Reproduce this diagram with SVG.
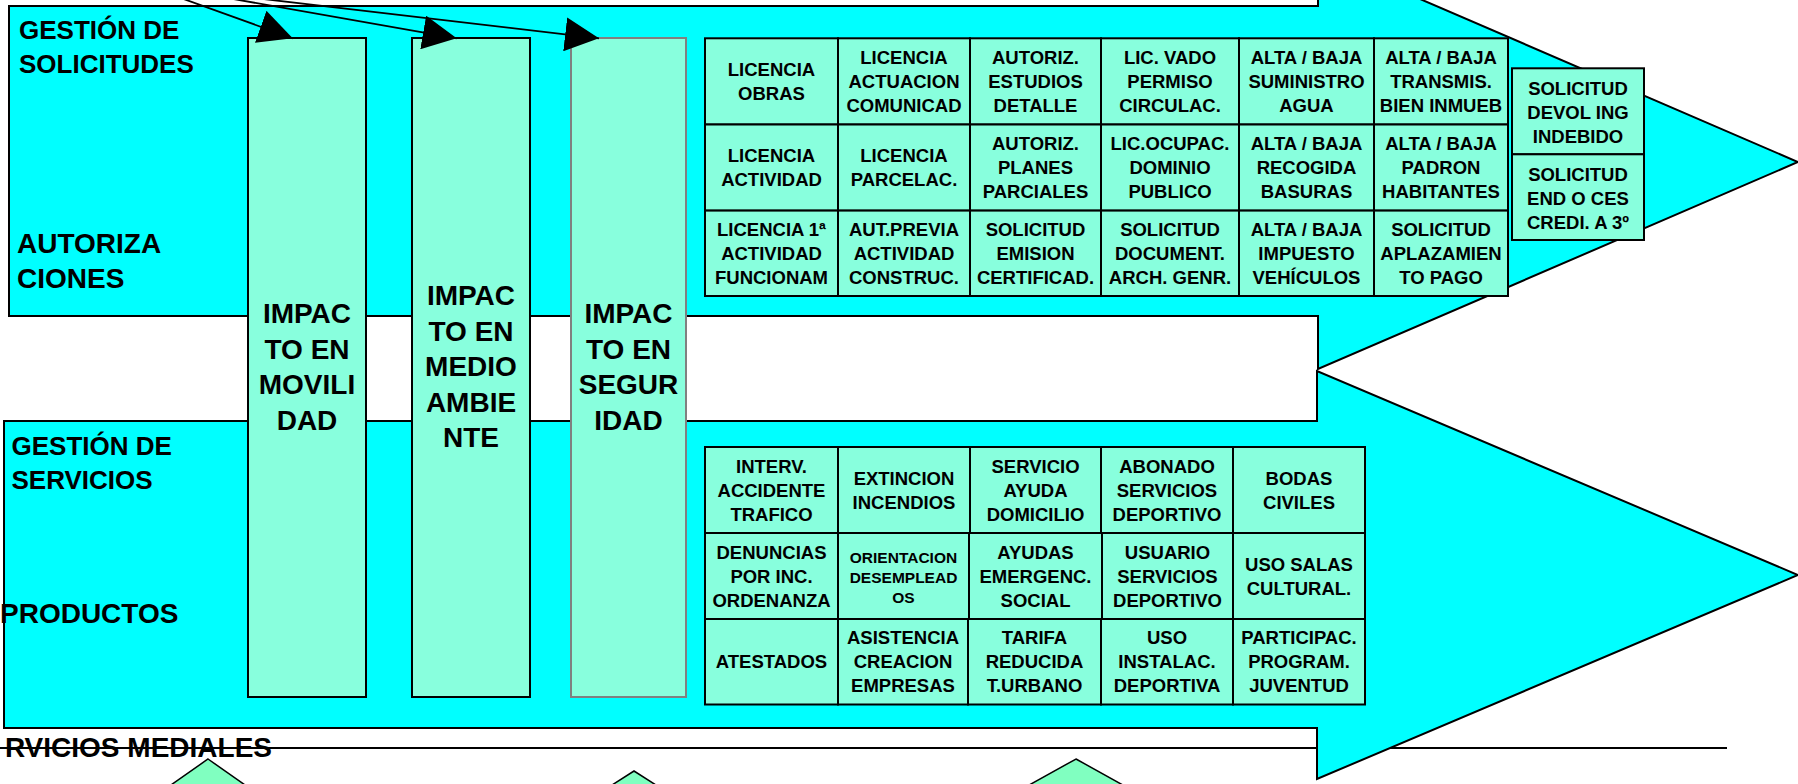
<svg xmlns="http://www.w3.org/2000/svg" width="1798" height="784" viewBox="0 0 1798 784">
<style>
text{font-family:"Liberation Sans",Arial,sans-serif;font-weight:bold;fill:#000}
.big{font-size:28px}
.lab{font-size:26px}
.col{font-size:28px;text-anchor:middle}
.cell{font-size:18.5px;text-anchor:middle}
.small{font-size:15.5px;text-anchor:middle}
.arrow{fill:#00FFFF;stroke:#000;stroke-width:2}
.box{fill:#88FFDD;stroke:#000;stroke-width:2}
.boxg{fill:#88FFDD;stroke:#808080;stroke-width:2}
.tri{fill:#80FFC0;stroke:#000;stroke-width:1.5}
.conn{fill:none;stroke:#000;stroke-width:1.8}
</style>
<defs>
<marker id="ah" viewBox="0 0 34 34" markerUnits="userSpaceOnUse" markerWidth="34" markerHeight="34" refX="34" refY="17" orient="auto">
<path d="M0,0 L34,17 L0,34 Z" fill="#000"/>
</marker>
</defs>
<rect width="1798" height="784" fill="#fff"/>

<g id="medial-line">
<line x1="0" y1="748" x2="1727" y2="748" stroke="#000" stroke-width="2.2"/>
</g>

<g id="arrow-solicitudes">
<path class="arrow" d="M9,6 H1318 V-45 L1798,162 L1318,369 V316 H9 Z"/>
<text class="lab" x="19" y="39">GESTIÓN DE</text>
<text class="lab" x="19" y="73">SOLICITUDES</text>
<text class="big" x="17" y="253">AUTORIZA</text>
<text class="big" x="17" y="288">CIONES</text>
</g>

<g id="arrow-servicios">
<path class="arrow" d="M4,421 H1317 V371 L1798,575 L1317,779 V728 H4 Z"/>
<text class="lab" x="11.5" y="455">GESTIÓN DE</text>
<text class="lab" x="11.5" y="489">SERVICIOS</text>
<text class="big" x="0" y="623">PRODUCTOS</text>
</g>

<g id="medial-label">
<text class="big" x="272" y="757" text-anchor="end">RVICIOS MEDIALES</text>
</g>

<g id="triangles">
<polygon class="tri" points="208,759 265,799 151,799"/>
<polygon class="tri" points="634,771 681,801 587,801"/>
<polygon class="tri" points="1076,759 1148,799 1004,799"/>
</g>

<g id="impacto-movilidad">
<rect class="box" x="248" y="38" width="118" height="659"/>
<text class="col" x="307" y="323">IMPAC<tspan x="307" dy="35.6">TO EN</tspan><tspan x="307" dy="35.6">MOVILI</tspan><tspan x="307" dy="35.6">DAD</tspan></text>
</g>
<g id="impacto-medio-ambiente">
<rect class="box" x="412" y="38" width="118" height="659"/>
<text class="col" x="471" y="305">IMPAC<tspan x="471" dy="35.6">TO EN</tspan><tspan x="471" dy="35.6">MEDIO</tspan><tspan x="471" dy="35.6">AMBIE</tspan><tspan x="471" dy="35.6">NTE</tspan></text>
</g>
<g id="impacto-seguridad">
<rect class="boxg" x="571" y="38" width="115" height="659"/>
<text class="col" x="628.5" y="323">IMPAC<tspan x="628.5" dy="35.6">TO EN</tspan><tspan x="628.5" dy="35.6">SEGUR</tspan><tspan x="628.5" dy="35.6">IDAD</tspan></text>
</g>

<g id="grid-solicitudes">
<g id="c-lic-obras"><rect class="box" x="705" y="38.3" width="133" height="86.2"/><text class="cell" x="771.5" y="76">LICENCIA<tspan x="771.5" dy="24">OBRAS</tspan></text></g>
<g id="c-lic-actuacion"><rect class="box" x="838" y="38.3" width="132" height="86.2"/><text class="cell" x="904" y="64">LICENCIA<tspan x="904" dy="24">ACTUACION</tspan><tspan x="904" dy="24">COMUNICAD</tspan></text></g>
<g id="c-aut-estudios"><rect class="box" x="970" y="38.3" width="131" height="86.2"/><text class="cell" x="1035.5" y="64">AUTORIZ.<tspan x="1035.5" dy="24">ESTUDIOS</tspan><tspan x="1035.5" dy="24">DETALLE</tspan></text></g>
<g id="c-lic-vado"><rect class="box" x="1101" y="38.3" width="138" height="86.2"/><text class="cell" x="1170" y="64">LIC. VADO<tspan x="1170" dy="24">PERMISO</tspan><tspan x="1170" dy="24">CIRCULAC.</tspan></text></g>
<g id="c-agua"><rect class="box" x="1239" y="38.3" width="135" height="86.2"/><text class="cell" x="1306.5" y="64">ALTA / BAJA<tspan x="1306.5" dy="24">SUMINISTRO</tspan><tspan x="1306.5" dy="24">AGUA</tspan></text></g>
<g id="c-transmis"><rect class="box" x="1374" y="38.3" width="134" height="86.2"/><text class="cell" x="1441" y="64">ALTA / BAJA<tspan x="1441" dy="24">TRANSMIS.</tspan><tspan x="1441" dy="24">BIEN INMUEB</tspan></text></g>

<g id="c-lic-actividad"><rect class="box" x="705" y="124.5" width="133" height="86.1"/><text class="cell" x="771.5" y="162.1">LICENCIA<tspan x="771.5" dy="24">ACTIVIDAD</tspan></text></g>
<g id="c-lic-parcelac"><rect class="box" x="838" y="124.5" width="132" height="86.1"/><text class="cell" x="904" y="162.1">LICENCIA<tspan x="904" dy="24">PARCELAC.</tspan></text></g>
<g id="c-aut-planes"><rect class="box" x="970" y="124.5" width="131" height="86.1"/><text class="cell" x="1035.5" y="150.1">AUTORIZ.<tspan x="1035.5" dy="24">PLANES</tspan><tspan x="1035.5" dy="24">PARCIALES</tspan></text></g>
<g id="c-lic-ocupac"><rect class="box" x="1101" y="124.5" width="138" height="86.1"/><text class="cell" x="1170" y="150.1">LIC.OCUPAC.<tspan x="1170" dy="24">DOMINIO</tspan><tspan x="1170" dy="24">PUBLICO</tspan></text></g>
<g id="c-basuras"><rect class="box" x="1239" y="124.5" width="135" height="86.1"/><text class="cell" x="1306.5" y="150.1">ALTA / BAJA<tspan x="1306.5" dy="24">RECOGIDA</tspan><tspan x="1306.5" dy="24">BASURAS</tspan></text></g>
<g id="c-padron"><rect class="box" x="1374" y="124.5" width="134" height="86.1"/><text class="cell" x="1441" y="150.1">ALTA / BAJA<tspan x="1441" dy="24">PADRON</tspan><tspan x="1441" dy="24">HABITANTES</tspan></text></g>

<g id="c-lic-1a"><rect class="box" x="705" y="210.6" width="133" height="85.4"/><text class="cell" x="771.5" y="235.9">LICENCIA 1ª<tspan x="771.5" dy="24">ACTIVIDAD</tspan><tspan x="771.5" dy="24">FUNCIONAM</tspan></text></g>
<g id="c-aut-previa"><rect class="box" x="838" y="210.6" width="132" height="85.4"/><text class="cell" x="904" y="235.9">AUT.PREVIA<tspan x="904" dy="24">ACTIVIDAD</tspan><tspan x="904" dy="24">CONSTRUC.</tspan></text></g>
<g id="c-certificad"><rect class="box" x="970" y="210.6" width="131" height="85.4"/><text class="cell" x="1035.5" y="235.9">SOLICITUD<tspan x="1035.5" dy="24">EMISION</tspan><tspan x="1035.5" dy="24">CERTIFICAD.</tspan></text></g>
<g id="c-document"><rect class="box" x="1101" y="210.6" width="138" height="85.4"/><text class="cell" x="1170" y="235.9">SOLICITUD<tspan x="1170" dy="24">DOCUMENT.</tspan><tspan x="1170" dy="24">ARCH. GENR.</tspan></text></g>
<g id="c-vehiculos"><rect class="box" x="1239" y="210.6" width="135" height="85.4"/><text class="cell" x="1306.5" y="235.9">ALTA / BAJA<tspan x="1306.5" dy="24">IMPUESTO</tspan><tspan x="1306.5" dy="24">VEHÍCULOS</tspan></text></g>
<g id="c-aplazamiento"><rect class="box" x="1374" y="210.6" width="134" height="85.4"/><text class="cell" x="1441" y="235.9">SOLICITUD<tspan x="1441" dy="24">APLAZAMIEN</tspan><tspan x="1441" dy="24">TO PAGO</tspan></text></g>

<g id="c-devol"><rect class="box" x="1512" y="68.3" width="132" height="86"/><text class="cell" x="1578" y="95">SOLICITUD<tspan x="1578" dy="24">DEVOL ING</tspan><tspan x="1578" dy="24">INDEBIDO</tspan></text></g>
<g id="c-endoso"><rect class="box" x="1512" y="154.3" width="132" height="85.7"/><text class="cell" x="1578" y="181">SOLICITUD<tspan x="1578" dy="24">END O CES</tspan><tspan x="1578" dy="24">CREDI. A 3º</tspan></text></g>
</g>

<g id="grid-servicios">
<g id="s-accidente"><rect class="box" x="705" y="447" width="133" height="86"/><text class="cell" x="771.5" y="472.6">INTERV.<tspan x="771.5" dy="24">ACCIDENTE</tspan><tspan x="771.5" dy="24">TRAFICO</tspan></text></g>
<g id="s-incendios"><rect class="box" x="838" y="447" width="132" height="86"/><text class="cell" x="904" y="484.6">EXTINCION<tspan x="904" dy="24">INCENDIOS</tspan></text></g>
<g id="s-ayuda"><rect class="box" x="970" y="447" width="131" height="86"/><text class="cell" x="1035.5" y="472.6">SERVICIO<tspan x="1035.5" dy="24">AYUDA</tspan><tspan x="1035.5" dy="24">DOMICILIO</tspan></text></g>
<g id="s-abonado"><rect class="box" x="1101" y="447" width="132" height="86"/><text class="cell" x="1167" y="472.6">ABONADO<tspan x="1167" dy="24">SERVICIOS</tspan><tspan x="1167" dy="24">DEPORTIVO</tspan></text></g>
<g id="s-bodas"><rect class="box" x="1233" y="447" width="132" height="86"/><text class="cell" x="1299" y="484.6">BODAS<tspan x="1299" dy="24">CIVILES</tspan></text></g>

<g id="s-denuncias"><rect class="box" x="705" y="533" width="133" height="86"/><text class="cell" x="771.5" y="558.6">DENUNCIAS<tspan x="771.5" dy="24">POR INC.</tspan><tspan x="771.5" dy="24">ORDENANZA</tspan></text></g>
<g id="s-orientacion"><rect class="box" x="838" y="533" width="131" height="86"/><text class="small" x="903.5" y="563.3">ORIENTACION<tspan x="903.5" dy="20">DESEMPLEAD</tspan><tspan x="903.5" dy="20">OS</tspan></text></g>
<g id="s-emergenc"><rect class="box" x="969" y="533" width="133" height="86"/><text class="cell" x="1035.5" y="558.6">AYUDAS<tspan x="1035.5" dy="24">EMERGENC.</tspan><tspan x="1035.5" dy="24">SOCIAL</tspan></text></g>
<g id="s-usuario"><rect class="box" x="1102" y="533" width="131" height="86"/><text class="cell" x="1167.5" y="558.6">USUARIO<tspan x="1167.5" dy="24">SERVICIOS</tspan><tspan x="1167.5" dy="24">DEPORTIVO</tspan></text></g>
<g id="s-salas"><rect class="box" x="1233" y="533" width="132" height="86"/><text class="cell" x="1299" y="570.6">USO SALAS<tspan x="1299" dy="24">CULTURAL.</tspan></text></g>

<g id="s-atestados"><rect class="box" x="705" y="619" width="133" height="85.5"/><text class="cell" x="771.5" y="668.4">ATESTADOS</text></g>
<g id="s-asistencia"><rect class="box" x="838" y="619" width="130" height="85.5"/><text class="cell" x="903" y="644.4">ASISTENCIA<tspan x="903" dy="24">CREACION</tspan><tspan x="903" dy="24">EMPRESAS</tspan></text></g>
<g id="s-tarifa"><rect class="box" x="968" y="619" width="133" height="85.5"/><text class="cell" x="1034.5" y="644.4">TARIFA<tspan x="1034.5" dy="24">REDUCIDA</tspan><tspan x="1034.5" dy="24">T.URBANO</tspan></text></g>
<g id="s-instalac"><rect class="box" x="1101" y="619" width="132" height="85.5"/><text class="cell" x="1167" y="644.4">USO<tspan x="1167" dy="24">INSTALAC.</tspan><tspan x="1167" dy="24">DEPORTIVA</tspan></text></g>
<g id="s-juventud"><rect class="box" x="1233" y="619" width="132" height="85.5"/><text class="cell" x="1299" y="644.4">PARTICIPAC.<tspan x="1299" dy="24">PROGRAM.</tspan><tspan x="1299" dy="24">JUVENTUD</tspan></text></g>
</g>

<g id="connectors">
<line class="conn" x1="142" y1="-16" x2="292.7" y2="38.3" marker-end="url(#ah)"/>
<line class="conn" x1="148" y1="-16" x2="456.7" y2="38.3" marker-end="url(#ah)"/>
<line class="conn" x1="135" y1="-16" x2="599" y2="38.3" marker-end="url(#ah)"/>
</g>
</svg>
